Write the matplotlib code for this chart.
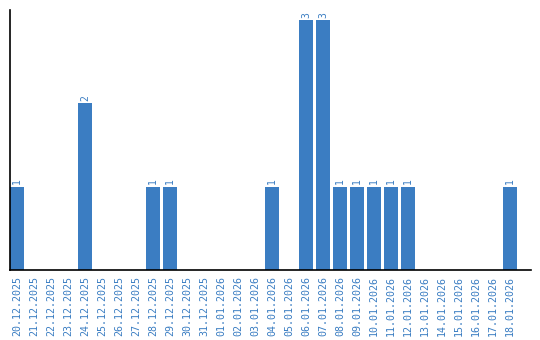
import matplotlib.pyplot as plt
import numpy as np

# dates and counts
dates = ['20.12.2025', '21.12.2025', '22.12.2025', '23.12.2025', '24.12.2025',
         '25.12.2025', '26.12.2025', '27.12.2025', '28.12.2025', '29.12.2025',
         '30.12.2025', '31.12.2025', '01.01.2026', '02.01.2026', '03.01.2026',
         '04.01.2026', '05.01.2026', '06.01.2026', '07.01.2026', '08.01.2026',
         '09.01.2026', '10.01.2026', '11.01.2026', '12.01.2026', '13.01.2026',
         '14.01.2026', '15.01.2026', '16.01.2026', '17.01.2026', '18.01.2026']
counts = [1, 0, 0, 0, 2, 0, 0, 0, 1, 1, 0, 0, 0, 0, 0,
          1, 0, 3, 3, 1, 1, 1, 1, 1, 0, 0, 0, 0, 0, 1]

bar_color = '#3b7dc2'
text_color = '#3a7dc2'

fig = plt.figure(figsize=(5.4, 3.4), dpi=100)
# axes box in pixels: x 10..531, y 10..270
ax = fig.add_axes([10 / 540, 70 / 340, 521 / 540, 260 / 340])

x = np.arange(len(dates))
width = 14 / 17
ax.bar(x, counts, width=width, align='edge', color=bar_color)

for xi, c in zip(x, counts):
    if c > 0:
        ax.text(xi + width / 2, c + 0.03, str(c), rotation=90, ha='center', va='bottom',
                color=text_color, fontsize=7, family='DejaVu Sans Mono')

ax.set_xticks(x + width / 2)
ax.set_xticklabels(dates, rotation=90, color=text_color, fontsize=7.2, family='DejaVu Sans Mono')
ax.tick_params(axis='x', length=0, pad=4)
ax.set_yticks([])
ax.set_xlim(0, 521 / 17)
ax.set_ylim(0, 260 / 83.3)

for side in ['top', 'right']:
    ax.spines[side].set_visible(False)
ax.spines['left'].set_linewidth(1.2)
ax.spines['bottom'].set_linewidth(1.2)

fig.savefig('out.png', dpi=100)
plt.close(fig)
